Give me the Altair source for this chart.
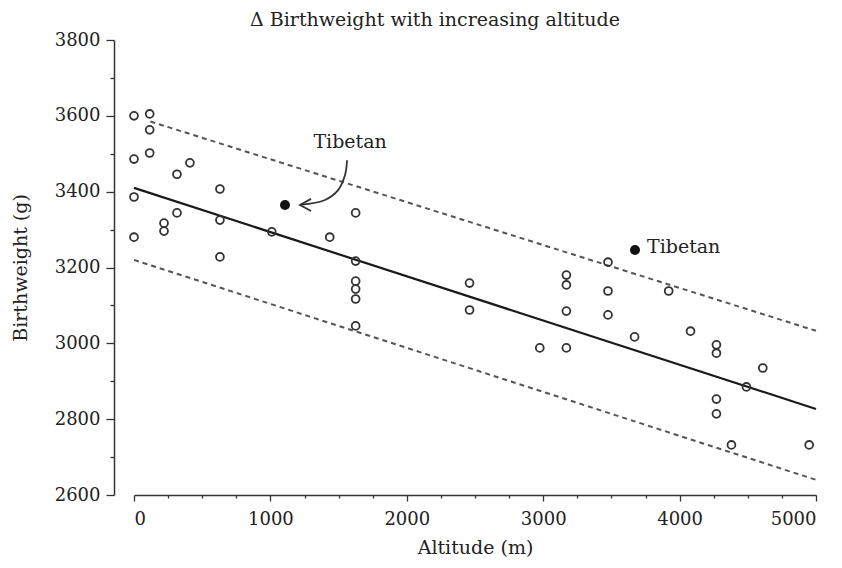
import altair as alt
import pandas as pd

# ---- data ----
open_alt = [0, 0, 0, 0, 115, 115, 115, 220, 220, 315, 315, 410, 630, 630, 630,
            1010, 1435, 1625, 1625, 1625, 1625, 1625, 1625, 2460, 2460, 2975,
            3170, 3170, 3170, 3170, 3475, 3475, 3475, 3670, 3920, 4080,
            4270, 4270, 4270, 4270, 4380, 4490, 4610, 4950]
open_bw = [3600, 3486, 3386, 3280, 3605, 3563, 3502, 3317, 3296, 3446, 3344, 3476,
           3407, 3325, 3228, 3294, 3280, 3344, 3217, 3164, 3143, 3117, 3046,
           3159, 3088, 2988, 3180, 3154, 3085, 2988, 3214, 3138, 3075, 3017,
           3138, 3032, 2996, 2974, 2853, 2814, 2732, 2885, 2935, 2732]

tib_alt = [1107, 3673]
tib_bw = [3365, 3246]

fit_alt = [0, 5000]
fit_bw = [3410, 2827]
upper_alt = [120, 5000]
upper_bw = [3585, 3033]
lower_alt = [0, 5000]
lower_bw = [3220, 2640]

label_text = ["Tibetan", "Tibetan"]
label_alt = [1584, 3761]
label_bw = [3531, 3254]
label_align = ["center", "left"]

arrow_alt = [1562, 1547, 1496, 1400, 1217]
arrow_bw = [3483, 3444, 3404, 3378, 3365]
head_alt = [1298, 1217, 1298]
head_bw = [3381, 3365, 3349]

FONT = "DejaVu Serif"
INK = "#222222"

xscale = alt.Scale(domain=[0, 5000], nice=False, zero=False)
yscale = alt.Scale(domain=[2600, 3800], nice=False, zero=False)

xaxis = alt.Axis(
    values=list(range(0, 5001, 250)), format="d",
    labelExpr="datum.value % 1000 === 0 ? datum.label : ''",
    tickSize={"condition": {"test": "datum.value % 1000 === 0", "value": 6}, "value": 3},
    grid=False, domainColor="#333333", tickColor="#333333", domainWidth=1.5, tickWidth=1.3,
    labelFont=FONT, labelFontSize=18, labelColor=INK, labelPadding=9,
    title="Altitude (m)", titleFont=FONT, titleFontSize=19, titleFontWeight="normal",
    titleColor=INK, titlePadding=10,
)
yaxis = alt.Axis(
    values=list(range(2600, 3801, 100)), format="d", offset=20,
    labelExpr="datum.value % 200 === 0 ? datum.label : ''",
    tickSize={"condition": {"test": "datum.value % 200 === 0", "value": 8}, "value": 4},
    grid=False, domainColor="#333333", tickColor="#333333", domainWidth=1.5, tickWidth=1.3,
    labelFont=FONT, labelFontSize=18, labelColor=INK, labelPadding=6,
    title="Birthweight (g)", titleFont=FONT, titleFontSize=19, titleFontWeight="normal",
    titleColor=INK, titlePadding=24,
)

pts = pd.DataFrame({"alt": open_alt, "bw": open_bw})
tib = pd.DataFrame({"alt": tib_alt, "bw": tib_bw})
fit = pd.DataFrame({"alt": fit_alt, "bw": fit_bw})
bands = pd.DataFrame({
    "alt": upper_alt + lower_alt,
    "bw": upper_bw + lower_bw,
    "band": ["upper"] * len(upper_alt) + ["lower"] * len(lower_alt),
})
labels = pd.DataFrame({"alt": label_alt, "bw": label_bw, "t": label_text, "al": label_align})
arrow = pd.DataFrame({"alt": arrow_alt, "bw": arrow_bw, "o": list(range(len(arrow_alt)))})
head = pd.DataFrame({"alt": head_alt, "bw": head_bw, "o": list(range(len(head_alt)))})

X = alt.X("alt:Q", scale=xscale, axis=xaxis)
Y = alt.Y("bw:Q", scale=yscale, axis=yaxis)

band_layer = alt.Chart(bands).mark_line(
    color="#555555", strokeWidth=2, strokeDash=[5, 4]
).encode(x=X, y=Y, detail="band:N")

fit_layer = alt.Chart(fit).mark_line(color="#1a1a1a", strokeWidth=2.2).encode(x=X, y=Y)

open_layer = alt.Chart(pts).mark_point(
    shape="circle", filled=False, size=62, strokeWidth=1.8, color="#333333", opacity=1
).encode(x=X, y=Y)

tib_layer = alt.Chart(tib).mark_point(
    shape="circle", filled=True, size=100, color="#111111", opacity=1
).encode(x=X, y=Y)

lab_left = alt.Chart(labels[labels["al"] == "center"]).mark_text(
    font=FONT, fontSize=19, color=INK, align="center", baseline="middle"
).encode(x=X, y=Y, text="t:N")
lab_right = alt.Chart(labels[labels["al"] == "left"]).mark_text(
    font=FONT, fontSize=19, color=INK, align="left", baseline="middle"
).encode(x=X, y=Y, text="t:N")

arrow_layer = alt.Chart(arrow).mark_line(
    color="#333333", strokeWidth=1.8, interpolate="catmull-rom"
).encode(x=X, y=Y, order="o:Q")
head_layer = alt.Chart(head).mark_line(
    color="#333333", strokeWidth=1.8
).encode(x=X, y=Y, order="o:Q")

chart = alt.layer(
    band_layer, fit_layer, open_layer, tib_layer, arrow_layer, head_layer, lab_left, lab_right
).properties(
    width=682, height=455,
    background="white",
    title=alt.TitleParams(
        "Δ Birthweight with increasing altitude", font=FONT, fontSize=19,
        fontWeight="normal", color=INK, anchor="middle", dx=-40, offset=1,
    ),
    autosize=alt.AutoSizeParams(type="none"),
    padding={"left": 126, "top": 32, "right": 18, "bottom": 65},
).configure_view(stroke=None)

chart.save("out.html", embed_options={"renderer": "svg", "actions": False})
